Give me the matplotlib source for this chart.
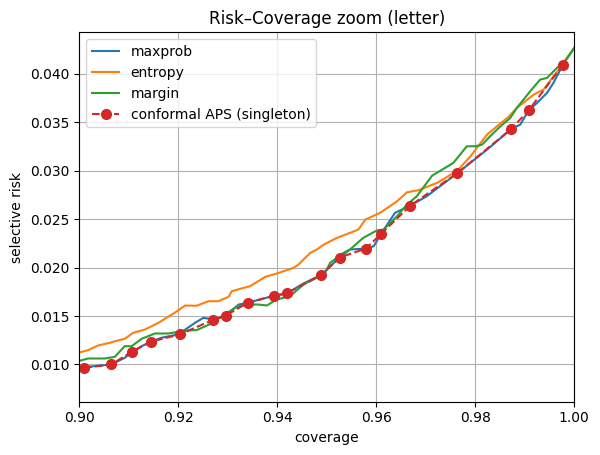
import matplotlib
matplotlib.use("Agg")
import matplotlib.pyplot as plt

# coverage / selective risk
maxprob_cov = [0.8998, 0.9065, 0.9072, 0.9092, 0.9106, 0.9126, 0.9146, 0.9166, 0.9200, 0.9234,
               0.9251, 0.9271, 0.9296, 0.9322, 0.9340, 0.9393, 0.9419, 0.9453, 0.9489, 0.9526,
               0.9547, 0.9579, 0.9595, 0.9610, 0.9638, 0.9669, 0.9702, 0.9764, 0.9824, 0.9872,
               0.9891, 0.9908, 0.9925, 0.9945, 0.9958, 0.9977, 1.0000]
maxprob_risk = [0.00966, 0.01000, 0.01018, 0.01069, 0.01121, 0.01189, 0.01237, 0.01276, 0.01310, 0.01430,
                0.01482, 0.01464, 0.01504, 0.01619, 0.01637, 0.01709, 0.01733, 0.01836, 0.01926, 0.02104,
                0.02187, 0.02197, 0.02221, 0.02349, 0.02566, 0.02641, 0.02737, 0.02976, 0.03219, 0.03428,
                0.03477, 0.03624, 0.03701, 0.03804, 0.03907, 0.04093, 0.04268]

entropy_cov = [0.8998, 0.9018, 0.9038, 0.9062, 0.9072, 0.9092, 0.9109, 0.9133, 0.9160, 0.9193,
               0.9214, 0.9237, 0.9261, 0.9281, 0.9302, 0.9308, 0.9325, 0.9345, 0.9376, 0.9399,
               0.9433, 0.9443, 0.9467, 0.9480, 0.9494, 0.9521, 0.9547, 0.9564, 0.9578, 0.9608,
               0.9642, 0.9662, 0.9685, 0.9723, 0.9764, 0.9790, 0.9824, 0.9844, 0.9867, 0.9884,
               0.9918, 0.9938, 0.9958, 0.9972, 1.0000]
entropy_risk = [0.01121, 0.01148, 0.01196, 0.01224, 0.01240, 0.01265, 0.01327, 0.01361, 0.01430, 0.01534,
                0.01609, 0.01606, 0.01653, 0.01653, 0.01699, 0.01756, 0.01781, 0.01808, 0.01905, 0.01939,
                0.01998, 0.02032, 0.02153, 0.02187, 0.02238, 0.02308, 0.02359, 0.02393, 0.02496, 0.02566,
                0.02685, 0.02778, 0.02799, 0.02875, 0.03002, 0.03147, 0.03374, 0.03459, 0.03556, 0.03649,
                0.03786, 0.03838, 0.03975, 0.04062, 0.04268]

margin_cov = [0.8998, 0.9018, 0.9052, 0.9072, 0.9092, 0.9106, 0.9126, 0.9153, 0.9180, 0.9200,
              0.9227, 0.9237, 0.9267, 0.9294, 0.9315, 0.9335, 0.9362, 0.9379, 0.9399, 0.9426,
              0.9453, 0.9480, 0.9497, 0.9507, 0.9534, 0.9547, 0.9574, 0.9601, 0.9615, 0.9642,
              0.9662, 0.9682, 0.9713, 0.9756, 0.9783, 0.9800, 0.9814, 0.9830, 0.9851, 0.9871,
              0.9884, 0.9911, 0.9931, 0.9945, 0.9965, 0.9978, 1.0000]
margin_risk = [0.01034, 0.01062, 0.01062, 0.01079, 0.01189, 0.01189, 0.01265, 0.01320, 0.01320, 0.01337,
               0.01354, 0.01354, 0.01423, 0.01516, 0.01585, 0.01619, 0.01619, 0.01609, 0.01671, 0.01705,
               0.01826, 0.01895, 0.01946, 0.02050, 0.02153, 0.02187, 0.02308, 0.02383, 0.02393, 0.02530,
               0.02651, 0.02737, 0.02950, 0.03082, 0.03253, 0.03253, 0.03270, 0.03356, 0.03459, 0.03546,
               0.03649, 0.03820, 0.03941, 0.03959, 0.04062, 0.04113, 0.04268]

aps_cov = [0.9010, 0.9065, 0.9106, 0.9146, 0.9203, 0.9271, 0.9296, 0.9340, 0.9393, 0.9419,
           0.9489, 0.9526, 0.9579, 0.9610, 0.9669, 0.9764, 0.9872, 0.9908, 0.9977]
aps_risk = [0.00966, 0.01000, 0.01131, 0.01237, 0.01310, 0.01462, 0.01504, 0.01637, 0.01709, 0.01733,
            0.01926, 0.02104, 0.02197, 0.02349, 0.02641, 0.02976, 0.03428, 0.03624, 0.04093]

fig, ax = plt.subplots(figsize=(6, 4.55), dpi=100)
ax.plot(maxprob_cov, maxprob_risk, label="maxprob")
ax.plot(entropy_cov, entropy_risk, label="entropy")
ax.plot(margin_cov, margin_risk, label="margin")
ax.plot(aps_cov, aps_risk, "--o", color="tab:red", markersize=7,
        label="conformal APS (singleton)")

ax.set_xlim(0.90, 1.00)
ax.set_ylim(0.00615, 0.0443)
ax.set_title("Risk\u2013Coverage zoom (letter)")
ax.set_xlabel("coverage")
ax.set_ylabel("selective risk")
ax.grid(True)
ax.legend(loc="upper left")
fig.subplots_adjust(left=0.132, right=0.957, top=0.929, bottom=0.117)
fig.savefig("out.png")
